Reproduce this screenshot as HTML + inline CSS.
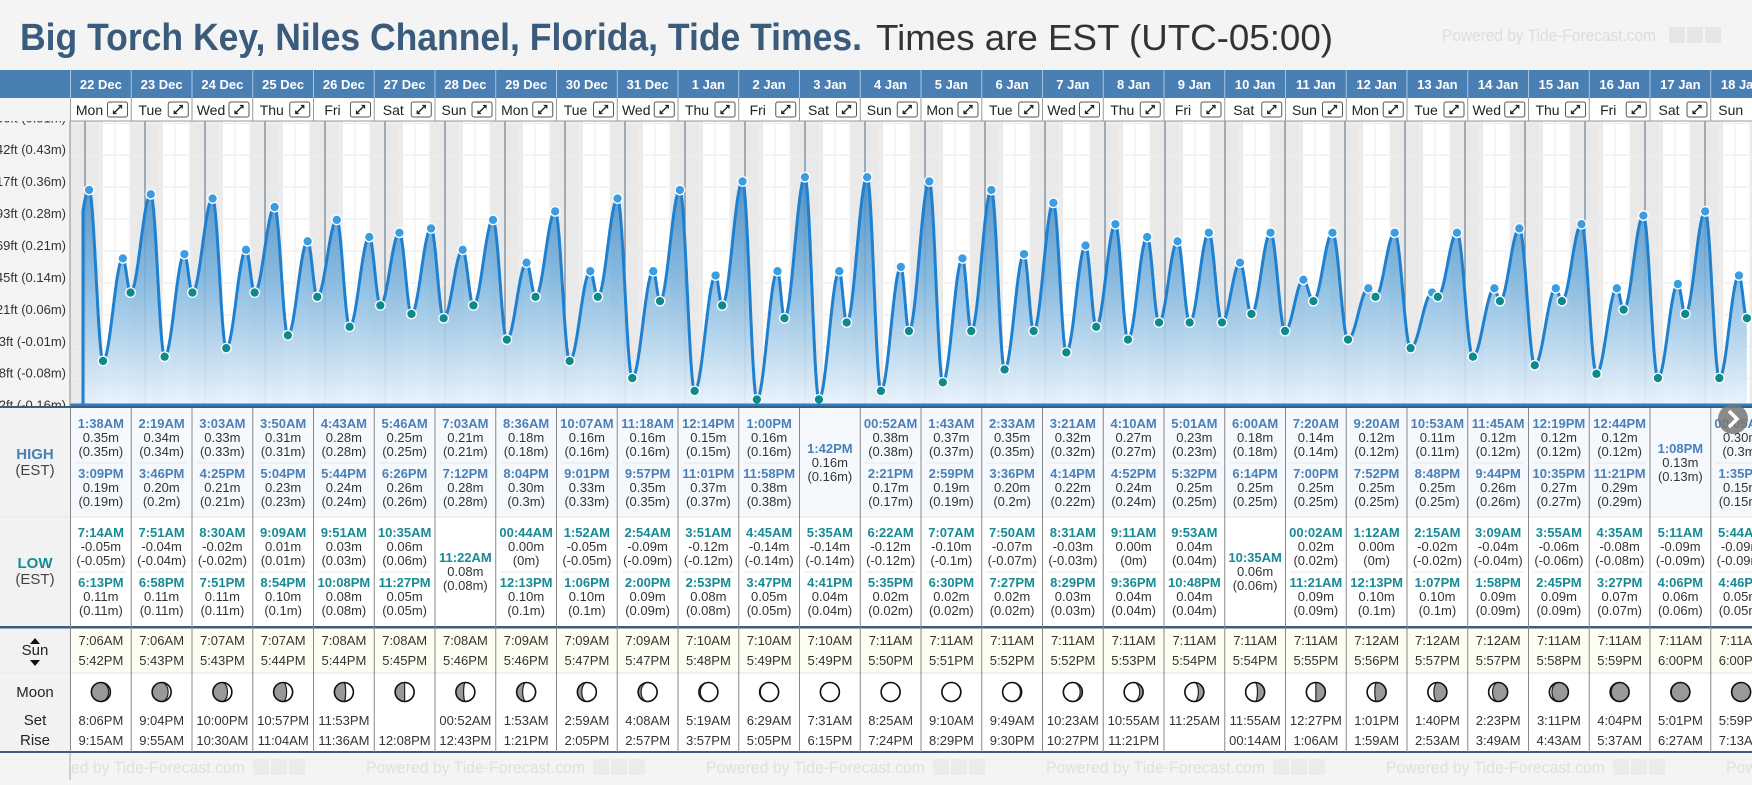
<!DOCTYPE html>
<html><head><meta charset="utf-8">
<style>
html,body{margin:0;padding:0;background:#f4f4f4;}
body{width:1752px;height:780px;overflow:hidden;font-family:"Liberation Sans",sans-serif;}
svg text{font-family:"Liberation Sans","DejaVu Sans",sans-serif;}
</style></head>
<body>
<svg id="root" xmlns="http://www.w3.org/2000/svg" width="1752" height="780" viewBox="0 0 1752 780">
  <defs>
    <linearGradient id="fillGrad" gradientUnits="userSpaceOnUse" x1="0" y1="150" x2="0" y2="406">
      <stop offset="0" stop-color="#3a82be" stop-opacity="0.95"/>
      <stop offset="0.5" stop-color="#78b2dd" stop-opacity="0.85"/>
      <stop offset="1" stop-color="#e9f3fb" stop-opacity="0.9"/>
    </linearGradient>
    <clipPath id="plotClip"><rect x="70" y="121" width="1682" height="286"/></clipPath>
    <clipPath id="footClip"><rect x="70" y="752" width="1682" height="28"/></clipPath>
  </defs>
  <rect x="0" y="0" width="1752" height="780" fill="#f4f4f4"/>
  <text x="20" y="50" font-size="38" font-weight="bold" fill="#3a5b7c" textLength="842" lengthAdjust="spacingAndGlyphs">Big Torch Key, Niles Channel, Florida, Tide Times.</text>
  <text x="876" y="50" font-size="36" fill="#333" textLength="457" lengthAdjust="spacingAndGlyphs">Times are EST (UTC-05:00)</text>
  <g>
    <text x="1442" y="41" font-size="17" fill="#dcdcdc" textLength="214" lengthAdjust="spacingAndGlyphs">Powered by Tide-Forecast.com</text>
    <rect x="1669" y="27" width="16" height="16" fill="#e6e6e6"/>
    <rect x="1687" y="27" width="16" height="16" fill="#e6e6e6"/>
    <rect x="1705" y="27" width="16" height="16" fill="#e6e6e6"/>
  </g>
  <g id="plot" clip-path="url(#plotClip)"></g>
  <g id="yaxis"></g>
  <g id="header"></g>
  <g id="table"></g>
  <g id="footer"></g>
</svg>
<script>
// ---- data ----
const dates = ["22 Dec","23 Dec","24 Dec","25 Dec","26 Dec","27 Dec","28 Dec","29 Dec","30 Dec","31 Dec","1 Jan","2 Jan","3 Jan","4 Jan","5 Jan","6 Jan","7 Jan","8 Jan","9 Jan","10 Jan","11 Jan","12 Jan","13 Jan","14 Jan","15 Jan","16 Jan","17 Jan","18 Jan"];
const weekdays = ["Mon","Tue","Wed","Thu","Fri","Sat","Sun"];
const highTimes = [["1:38AM","3:09PM"],["2:19AM","3:46PM"],["3:03AM","4:25PM"],["3:50AM","5:04PM"],["4:43AM","5:44PM"],["5:46AM","6:26PM"],["7:03AM","7:12PM"],["8:36AM","8:04PM"],["10:07AM","9:01PM"],["11:18AM","9:57PM"],["12:14PM","11:01PM"],["1:00PM","11:58PM"],["1:42PM"],["00:52AM","2:21PM"],["1:43AM","2:59PM"],["2:33AM","3:36PM"],["3:21AM","4:14PM"],["4:10AM","4:52PM"],["5:01AM","5:32PM"],["6:00AM","6:14PM"],["7:20AM","7:00PM"],["9:20AM","7:52PM"],["10:53AM","8:48PM"],["11:45AM","9:44PM"],["12:19PM","10:35PM"],["12:44PM","11:21PM"],["1:08PM"],["00:05AM","1:35PM"]];
const highValues = [[0.35,0.19],[0.34,0.20],[0.33,0.21],[0.31,0.23],[0.28,0.24],[0.25,0.26],[0.21,0.28],[0.18,0.30],[0.16,0.33],[0.16,0.35],[0.15,0.37],[0.16,0.38],[0.16],[0.38,0.17],[0.37,0.19],[0.35,0.20],[0.32,0.22],[0.27,0.24],[0.23,0.25],[0.18,0.25],[0.14,0.25],[0.12,0.25],[0.11,0.25],[0.12,0.26],[0.12,0.27],[0.12,0.29],[0.13],[0.30,0.15]];
const lowTimes = [["7:14AM","6:13PM"],["7:51AM","6:58PM"],["8:30AM","7:51PM"],["9:09AM","8:54PM"],["9:51AM","10:08PM"],["10:35AM","11:27PM"],["11:22AM"],["00:44AM","12:13PM"],["1:52AM","1:06PM"],["2:54AM","2:00PM"],["3:51AM","2:53PM"],["4:45AM","3:47PM"],["5:35AM","4:41PM"],["6:22AM","5:35PM"],["7:07AM","6:30PM"],["7:50AM","7:27PM"],["8:31AM","8:29PM"],["9:11AM","9:36PM"],["9:53AM","10:48PM"],["10:35AM"],["00:02AM","11:21AM"],["1:12AM","12:13PM"],["2:15AM","1:07PM"],["3:09AM","1:58PM"],["3:55AM","2:45PM"],["4:35AM","3:27PM"],["5:11AM","4:06PM"],["5:44AM","4:46PM"]];
const lowValues = [[-0.05,0.11],[-0.04,0.11],[-0.02,0.11],[0.01,0.10],[0.03,0.08],[0.06,0.05],[0.08],[0.00,0.10],[-0.05,0.10],[-0.09,0.09],[-0.12,0.08],[-0.14,0.05],[-0.14,0.04],[-0.12,0.02],[-0.10,0.02],[-0.07,0.02],[-0.03,0.03],[0.00,0.04],[0.04,0.04],[0.06],[0.02,0.09],[0.00,0.10],[-0.02,0.10],[-0.04,0.09],[-0.06,0.09],[-0.08,0.07],[-0.09,0.06],[-0.09,0.05]];
const sunrise = ["7:06AM","7:06AM","7:07AM","7:07AM","7:08AM","7:08AM","7:08AM","7:09AM","7:09AM","7:09AM","7:10AM","7:10AM","7:10AM","7:11AM","7:11AM","7:11AM","7:11AM","7:11AM","7:11AM","7:11AM","7:11AM","7:12AM","7:12AM","7:12AM","7:11AM","7:11AM","7:11AM","7:11AM"];
const sunset = ["5:42PM","5:43PM","5:43PM","5:44PM","5:44PM","5:45PM","5:46PM","5:46PM","5:47PM","5:47PM","5:48PM","5:49PM","5:49PM","5:50PM","5:51PM","5:52PM","5:52PM","5:53PM","5:54PM","5:54PM","5:55PM","5:56PM","5:57PM","5:57PM","5:58PM","5:59PM","6:00PM","6:00PM"];
const moonSet = ["8:06PM","9:04PM","10:00PM","10:57PM","11:53PM","","00:52AM","1:53AM","2:59AM","4:08AM","5:19AM","6:29AM","7:31AM","8:25AM","9:10AM","9:49AM","10:23AM","10:55AM","11:25AM","11:55AM","12:27PM","1:01PM","1:40PM","2:23PM","3:11PM","4:04PM","5:01PM","5:59PM"];
const moonRise = ["9:15AM","9:55AM","10:30AM","11:04AM","11:36AM","12:08PM","12:43PM","1:21PM","2:05PM","2:57PM","3:57PM","5:05PM","6:15PM","7:24PM","8:29PM","9:30PM","10:27PM","11:21PM","","00:14AM","1:06AM","1:59AM","2:53AM","3:49AM","4:43AM","5:37AM","6:27AM","7:13AM"];
const moonPhase = [0.10,0.13,0.16,0.19,0.22,0.25,0.28,0.31,0.34,0.37,0.41,0.44,0.48,0.51,0.54,0.58,0.61,0.64,0.68,0.71,0.75,0.78,0.81,0.85,0.88,0.92,0.95,0.98];
const tickLabels = ["1.66ft (0.51m)","1.42ft (0.43m)","1.17ft (0.36m)","0.93ft (0.28m)","0.69ft (0.21m)","0.45ft (0.14m)","0.21ft (0.06m)","-0.03ft (-0.01m)","-0.28ft (-0.08m)","-0.52ft (-0.16m)"];
const tickFeet = [1.66,1.415,1.17,0.925,0.68,0.435,0.19,-0.055,-0.30,-0.545];
const prevExtreme = [-0.27, 0.11];

// ---- scales ----
const NS = "http://www.w3.org/2000/svg";
const X0 = 85, DAYW = 60.0;
function xT(t){ return X0 + t*DAYW; }
function yV(v){ return 339.6 - v*427.5; }
const COL0 = 70.5, COLW = 60.75;
function colL(i){ return COL0 + i*COLW; }
function parseT(s){
  const m = s.match(/(\d+):(\d+)(AM|PM)/);
  let h = +m[1], mi = +m[2];
  if (m[3]==="AM"){ if(h===12) h=0; } else { if(h!==12) h+=12; }
  return (h + mi/60)/24;
}
function mk(tag, attrs, parent, text){
  const e = document.createElementNS(NS, tag);
  for (const k in attrs) e.setAttribute(k, attrs[k]);
  if (text !== undefined) e.textContent = text;
  parent.appendChild(e);
  return e;
}
function fmtP(v){ return "(" + String(Number(v.toFixed(2))) + "m)"; }

const plot = document.getElementById("plot");
const yaxis = document.getElementById("yaxis");
const header = document.getElementById("header");
const table = document.getElementById("table");
const footer = document.getElementById("footer");

// ---- plot background ----
mk("rect",{x:70,y:121,width:1682,height:286,fill:"#e9e9e9"},plot);
for (let d=0; d<dates.length; d++){
  const a = xT(d+parseT(sunrise[d])), b = xT(d+parseT(sunset[d]));
  const r = mk("rect",{x:a,y:121,width:b-a,height:286,fill:"#ffffff"},plot);
  
  
}
for (let q=-4; q<dates.length*4+4; q++){
  if (q%4===0) continue;
  mk("line",{x1:xT(q/4),x2:xT(q/4),y1:121,y2:407,stroke:"#f0f0f0","stroke-width":1.2},plot);
}
tickFeet.forEach((f)=>{
  const y = yV(f*0.3048);
  mk("line",{x1:70,x2:1752,y1:y,y2:y,stroke:"#eeeeee","stroke-width":1.2},plot);
});
for (let d=0; d<=dates.length; d++){
  const l = mk("line",{x1:xT(d),x2:xT(d),y1:121,y2:407,stroke:"#6f8296","stroke-width":1.2},plot);
  
  
}

// ---- extremes ----
const ext = [];
highTimes.forEach((arr,d)=>arr.forEach((s,k)=>ext.push({t:d+parseT(s), v:highValues[d][k], hi:true})));
lowTimes.forEach((arr,d)=>arr.forEach((s,k)=>ext.push({t:d+parseT(s), v:lowValues[d][k], hi:false})));
ext.sort((a,b)=>a.t-b.t);
const all = [{t:prevExtreme[0], v:prevExtreme[1]}].concat(ext);
function valAt(t){
  for (let i=0;i<all.length-1;i++){
    const a=all[i], b=all[i+1];
    if (t>=a.t && t<=b.t){
      const f=(t-a.t)/(b.t-a.t);
      return a.v + (b.v-a.v)*(1-Math.cos(Math.PI*f))/2;
    }
  }
  return all[all.length-1].v;
}
const tStart = (83-X0)/DAYW, tEnd = all[all.length-1].t;
let pts = [];
for (let t=tStart; t<=tEnd+1e-9; t+=0.004) pts.push([xT(t), yV(valAt(t))]);
pts.push([xT(tEnd), yV(all[all.length-1].v)]);
let dLine = "M" + pts.map(p=>p[0].toFixed(1)+","+p[1].toFixed(1)).join("L");
const area = mk("path",{d:dLine+"L"+pts[pts.length-1][0].toFixed(1)+",407L"+pts[0][0].toFixed(1)+",407Z",fill:"url(#fillGrad)"},plot);


const line = mk("path",{d:"M"+pts[0][0].toFixed(1)+",407L"+dLine.slice(1),fill:"none",stroke:"#1f80cf","stroke-width":3,"stroke-linejoin":"round"},plot);


ext.forEach(e=>{
  const c = mk("circle",{cx:xT(e.t),cy:yV(e.v),r:4.8,fill:e.hi?"#3a9de2":"#0f8a8c",stroke:"#ffffff","stroke-width":1.3},plot);
  
  
});
mk("rect",{x:70,y:403.5,width:1682,height:3,fill:"#2a80c8"},plot);

// ---- y axis ----
mk("rect",{x:0,y:121,width:70,height:286,fill:"#f4f4f4"},yaxis);
mk("line",{x1:70,x2:70,y1:121,y2:407,stroke:"#8a8a8a","stroke-width":1},yaxis);
tickLabels.forEach((s,i)=>{
  const t = mk("text",{x:66,y:yV(tickFeet[i]*0.3048)-1,"font-size":13,fill:"#333","text-anchor":"end"},yaxis,s);
  
  
});

// ---- header ----
mk("rect",{x:0,y:70,width:1752,height:28,fill:"#4a7fb4"},header);
mk("rect",{x:0,y:98,width:70,height:23,fill:"#f4f4f4"},header);
mk("rect",{x:70,y:98,width:1682,height:23,fill:"#ffffff"},header);
mk("line",{x1:70,x2:1752,y1:121,y2:121,stroke:"#999","stroke-width":1},header);
dates.forEach((ds,i)=>{
  const L = colL(i), C = L+COLW/2;
  mk("line",{x1:L,x2:L,y1:70,y2:98,stroke:"#a9c3dd","stroke-width":1},header);
  mk("line",{x1:L,x2:L,y1:98,y2:121,stroke:"#999","stroke-width":1},header);
  const dt = mk("text",{x:C,y:89,"font-size":13,"font-weight":"bold",fill:"#ffffff","text-anchor":"middle"},header,ds);
  
  
  const wd = mk("text",{x:L+(i===27?20:19),y:115,"font-size":14,fill:"#222","text-anchor":"middle"},header,weekdays[i%7]);
  
  
  if (i<27){
    const g = mk("g",{},header);
    
    
    mk("rect",{x:L+37,y:102,width:20,height:15,rx:2,fill:"#fff",stroke:"#555","stroke-width":1},g);
    const bx=L+47, by=109.5;
    mk("path",{d:`M${bx-4},${by+4}L${bx+4},${by-4}M${bx+1},${by-4}L${bx+4},${by-4}L${bx+4},${by-1}M${bx-4},${by+1}L${bx-4},${by+4}L${bx-1},${by+4}`,fill:"none",stroke:"#222","stroke-width":1.3},g);
  }
});

// ---- table ----
mk("rect",{x:0,y:407,width:70,height:345,fill:"#f2f2f2"},table);
mk("rect",{x:70,y:408,width:1682,height:109,fill:"#f5f9fd"},table);
mk("rect",{x:70,y:517,width:1682,height:110,fill:"#ffffff"},table);
mk("rect",{x:70,y:628,width:1682,height:45,fill:"#fdfdf1"},table);
mk("rect",{x:70,y:673,width:1682,height:79,fill:"#ffffff"},table);
mk("line",{x1:0,x2:1752,y1:517,y2:517,stroke:"#ececec","stroke-width":1.5},table);
mk("line",{x1:0,x2:1752,y1:673,y2:673,stroke:"#ececec","stroke-width":1.5},table);
mk("rect",{x:0,y:406,width:1752,height:2,fill:"#3d5d7e"},table);
mk("rect",{x:0,y:626,width:1752,height:2.5,fill:"#3d5d7e"},table);
mk("rect",{x:0,y:751,width:1752,height:2,fill:"#3d5d7e"},table);
function lbl(x,y,s,fs,fill,bold,name){
  const t = mk("text",{x:x,y:y,"font-size":fs,fill:fill,"text-anchor":"middle","font-weight":bold?"bold":"normal"},table,s);
  
  
  return t;
}
lbl(35,459,"HIGH",15,"#4a80b8",true,"high-row-label");
lbl(35,475,"(EST)",15,"#444",false,"high-row-tz");
lbl(35,568,"LOW",15,"#178a96",true,"low-row-label");
lbl(35,584,"(EST)",15,"#444",false,"low-row-tz");
lbl(35,655,"Sun",15,"#222",false,"sun-row-label");
mk("path",{d:"M30,644L35,638L40,644Z",fill:"#111"},table);
mk("path",{d:"M30,660L35,666L40,660Z",fill:"#111"},table);
lbl(35,697,"Moon",15,"#222",false,"moon-row-label");
lbl(35,725,"Set",15,"#222",false,"moonset-label");
lbl(35,745,"Rise",15,"#222",false,"moonrise-label");

function entry(C,yT,time,val,color,name){
  lbl(C,yT,time,13,color,true,name+"-time");
  lbl(C,yT+14,val.toFixed(2)+"m",13,"#333",false,name+"-value");
  lbl(C,yT+28,fmtP(val),13,"#333",false,name+"-value-alt");
}
dates.forEach((ds,i)=>{
  const L = colL(i), C = L+COLW/2;
  mk("line",{x1:L,x2:L,y1:408,y2:752,stroke:"#888","stroke-width":1},table);
  if (highTimes[i].length===2){
    entry(C,428,highTimes[i][0],highValues[i][0],"#4a80b8","high-tide");
    mk("line",{x1:L+5,x2:L+COLW-5,y1:463,y2:463,stroke:"#e6e6e6","stroke-width":1},table);
    entry(C,478,highTimes[i][1],highValues[i][1],"#4a80b8","high-tide");
  } else entry(C,453,highTimes[i][0],highValues[i][0],"#4a80b8","high-tide");
  if (lowTimes[i].length===2){
    entry(C,537,lowTimes[i][0],lowValues[i][0],"#178a96","low-tide");
    mk("line",{x1:L+5,x2:L+COLW-5,y1:572,y2:572,stroke:"#e6e6e6","stroke-width":1},table);
    entry(C,587,lowTimes[i][1],lowValues[i][1],"#178a96","low-tide");
  } else entry(C,562,lowTimes[i][0],lowValues[i][0],"#178a96","low-tide");
  lbl(C,645,sunrise[i],13,"#333",false,"sunrise-time");
  lbl(C,665,sunset[i],13,"#333",false,"sunset-time");
  if (moonSet[i]) lbl(C,725,moonSet[i],13,"#333",false,"moonset-time");
  if (moonRise[i]) lbl(C,745,moonRise[i],13,"#333",false,"moonrise-time");
  const cx=C, cy=692, r=9.5, p=moonPhase[i];
  const g = mk("g",{},table);
  
  
  mk("circle",{cx:cx,cy:cy,r:r,fill:"#999"},g);
  const k = Math.abs(Math.cos(2*Math.PI*p))*r;
  let d;
  if (p<0.5){
    const sw = p<0.25?0:1;
    d=`M${cx},${cy-r}A${r},${r} 0 0 1 ${cx},${cy+r}A${k},${r} 0 0 ${sw} ${cx},${cy-r}Z`;
  } else {
    const sw = p>0.75?1:0;
    d=`M${cx},${cy-r}A${r},${r} 0 0 0 ${cx},${cy+r}A${k},${r} 0 0 ${sw} ${cx},${cy-r}Z`;
  }
  mk("path",{d:d,fill:"#ffffff",stroke:"#222","stroke-width":1.2},g);
  mk("circle",{cx:cx,cy:cy,r:r,fill:"none",stroke:"#111","stroke-width":1.6},g);
});
const nb = mk("g",{},table);


mk("circle",{cx:1733,cy:419,r:15,fill:"#777",opacity:0.85},nb);
mk("path",{d:"M1729,411L1737,419L1729,427",fill:"none",stroke:"#fff","stroke-width":3.5},nb);

// ---- footer ----
mk("rect",{x:0,y:753,width:1752,height:27,fill:"#f4f4f4"},footer);
mk("line",{x1:70,x2:70,y1:753,y2:780,stroke:"#aaa","stroke-width":1},footer);
const fg = mk("g",{"clip-path":"url(#footClip)"},footer);
for (let k=0;k<6;k++){
  const x0 = 26+340*k;
  const t = mk("text",{x:x0,y:773,"font-size":17,fill:"#e0e0e0",textLength:219,lengthAdjust:"spacingAndGlyphs"},fg,"Powered by Tide-Forecast.com");
  
  
  mk("rect",{x:x0+227,y:759,width:16,height:16,fill:"#ebebeb"},fg);
  mk("rect",{x:x0+245,y:759,width:16,height:16,fill:"#ebebeb"},fg);
  mk("rect",{x:x0+263,y:759,width:16,height:16,fill:"#ebebeb"},fg);
}
</script>
</body></html>
